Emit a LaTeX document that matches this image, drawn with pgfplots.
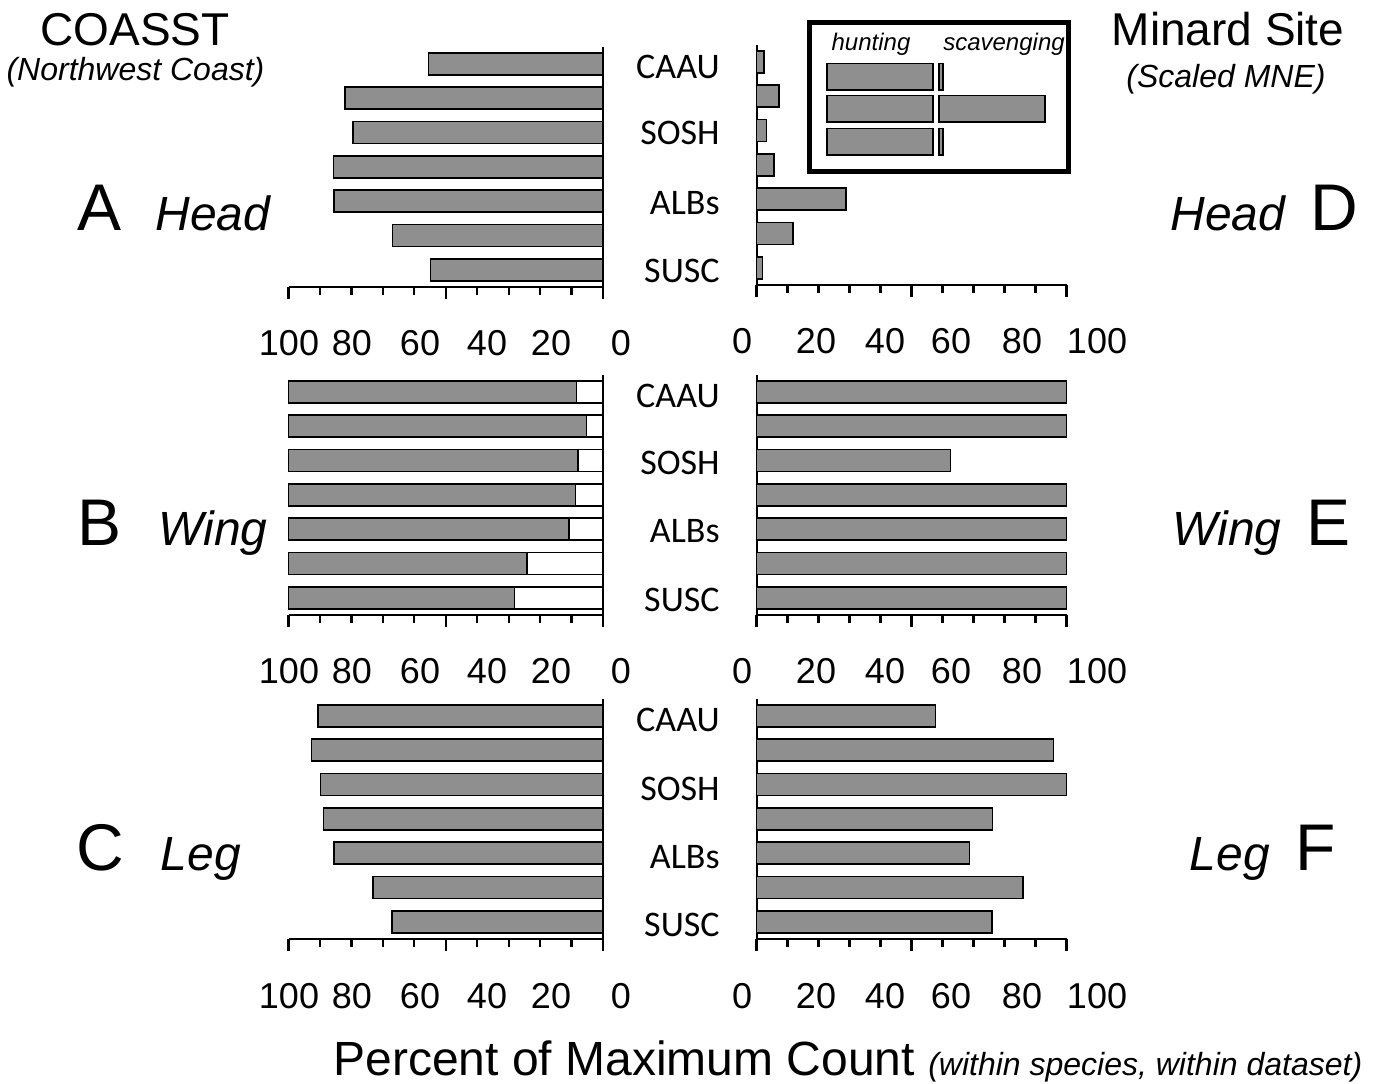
\documentclass[border=0pt]{standalone}
\usepackage{fontspec}
\setmainfont{Liberation Sans}
\newfontfamily\calfont{Carlito}
\usepackage{pgfplots}
\pgfplotsset{compat=1.18}
\definecolor{barg}{RGB}{143,143,143}
\pgfplotsset{
  panel/.style={
    scale only axis, height=119.8pt,
    ymin=0.5, ymax=7.48,
    ytick=\empty,
    xticklabels={},
    bar width=0.64,
    clip=false,
    anchor=south west,
  },
  tickset/.style={
    axis line style={line width=1pt,-},
    tick align=outside,
    major tick length=6pt, minor tick length=4pt,
    major tick style={line width=1.1pt,black},
    minor tick style={line width=1.1pt,black},
  },
  leftpanel/.style={panel, width=157.25pt, xmin=-100, xmax=0,
    xtick={-100,-50,0}, minor xtick={-90,-80,-70,-60,-40,-30,-20,-10},
    axis x line=bottom, axis y line=right, tickset},
  rightpanel/.style={panel, width=155pt, xmin=0, xmax=100,
    xtick={0,50,100}, minor xtick={10,20,30,40,60,70,80,90},
    axis x line=bottom, axis y line=left, tickset},
  bars/.style={fill=barg, draw=black, line width=0.75pt},
}
\newcommand{\tl}{\fontsize{18}{20}\selectfont}
\newcommand{\cl}{\calfont\fontsize{18}{20}\selectfont}
\begin{document}
\begin{tikzpicture}
\path[use as bounding box] (0,0) rectangle (687.5pt,-541.5pt);

% Panel A (COASST head)
\begin{axis}[leftpanel, at={(144.25pt,-143.5pt)}, xbar]
\addplot[bars] coordinates {(-55.5,7) (-82.0,6) (-79.5,5) (-85.7,4) (-85.5,3) (-66.9,2) (-54.8,1)};
\end{axis}

% Panel D (Minard head)
\begin{axis}[rightpanel, at={(378.25pt,-142.5pt)}, xbar]
\addplot[bars] coordinates {(2.4,7) (7.3,6) (3.2,5) (5.6,4) (28.8,3) (11.8,2) (1.9,1)};
\end{axis}

% Panel B (COASST wing)
\begin{axis}[leftpanel, at={(144.25pt,-307.5pt)}, xbar stacked]
\addplot[fill=white, draw=black, line width=0.75pt] coordinates {(-8.5,7) (-5.3,6) (-8.0,5) (-8.7,4) (-10.8,3) (-24.2,2) (-28.2,1)};
\addplot[bars] coordinates {(-91.5,7) (-94.7,6) (-92.0,5) (-91.3,4) (-89.2,3) (-75.8,2) (-71.8,1)};
\end{axis}

% Panel E (Minard wing)
\begin{axis}[rightpanel, at={(378.25pt,-307.5pt)}, xbar]
\addplot[bars] coordinates {(100,7) (100,6) (62.6,5) (100,4) (100,3) (100,2) (100,1)};
\end{axis}

% Panel C (COASST leg)
\begin{axis}[leftpanel, at={(144.25pt,-469.5pt)}, xbar]
\addplot[bars] coordinates {(-90.6,7) (-92.7,6) (-89.9,5) (-88.9,4) (-85.5,3) (-73.2,2) (-67.1,1)};
\end{axis}

% Panel F (Minard leg)
\begin{axis}[rightpanel, at={(378.25pt,-469.5pt)}, xbar]
\addplot[bars] coordinates {(57.7,7) (95.8,6) (100,5) (76.2,4) (68.7,3) (86.0,2) (75.9,1)};
\end{axis}

% Inset legend (hunting / scavenging)
\begin{axis}[scale only axis, width=129.75pt, height=74.5pt, at={(404.5pt,-85.75pt)}, anchor=south west,
  xmin=0, xmax=259.5, ymin=0, ymax=149, xtick=\empty, ytick=\empty,
  axis line style={line width=2.5pt}, xbar stacked, bar width=26.5, clip=false]
\addplot[draw=none, fill=none] coordinates {(18,94.8) (18,62.6) (18,29.8)};
\addplot[bars] coordinates {(106,94.8) (106,62.6) (106,29.8)};
\addplot[draw=none, fill=none] coordinates {(6,94.8) (6,62.6) (6,29.8)};
\addplot[bars] coordinates {(4,94.8) (106,62.6) (4,29.8)};
\node[anchor=base, font=\fontsize{12}{14}\selectfont\itshape, inner sep=0] at (axis cs:62,121.5) {hunting};
\node[anchor=base, font=\fontsize{12}{14}\selectfont\itshape, inner sep=0] at (axis cs:195,121.5) {scavenging};
\end{axis}

\begin{scope}[x=0.5pt, y=-0.5pt]
% titles
\node[anchor=base, inner sep=0, font=\fontsize{23}{26}\selectfont] at (135,45) {COASST};
\node[anchor=base, inner sep=0, font=\fontsize{16}{18}\selectfont\itshape] at (135.5,80) {(Northwest Coast)};
\node[anchor=base, inner sep=0, font=\fontsize{23}{26}\selectfont] at (1228,45) {Minard Site};
\node[anchor=base, inner sep=0, font=\fontsize{16}{18}\selectfont\itshape] at (1226,87) {(Scaled MNE)};
% panel letters and body parts
\node[anchor=base, inner sep=0, font=\fontsize{33}{36}\selectfont] at (100,230) {A};
\node[anchor=base, inner sep=0, font=\fontsize{24}{28}\selectfont\itshape] at (213,230) {Head};
\node[anchor=base, inner sep=0, font=\fontsize{24}{28}\selectfont\itshape] at (1228,230) {Head};
\node[anchor=base, inner sep=0, font=\fontsize{33}{36}\selectfont] at (1334,230) {D};
\node[anchor=base, inner sep=0, font=\fontsize{33}{36}\selectfont] at (100,545) {B};
\node[anchor=base, inner sep=0, font=\fontsize{24}{28}\selectfont\itshape] at (213,545) {Wing};
\node[anchor=base, inner sep=0, font=\fontsize{24}{28}\selectfont\itshape] at (1227,545) {Wing};
\node[anchor=base, inner sep=0, font=\fontsize{33}{36}\selectfont] at (1328,545) {E};
\node[anchor=base, inner sep=0, font=\fontsize{33}{36}\selectfont] at (100,870) {C};
\node[anchor=base, inner sep=0, font=\fontsize{24}{28}\selectfont\itshape] at (201,870) {Leg};
\node[anchor=base, inner sep=0, font=\fontsize{24}{28}\selectfont\itshape] at (1230,870) {Leg};
\node[anchor=base, inner sep=0, font=\fontsize{33}{36}\selectfont] at (1316,870) {F};
% category labels
\foreach \yy/\tt in {67/CAAU,133/SOSH,203/ALBs,271/SUSC,396/CAAU,463/SOSH,531/ALBs,600/SUSC,720/CAAU,789/SOSH,857/ALBs,925/SUSC}
  \node[anchor=east, inner sep=0, font=\cl] at (720,\yy) {\tt};
% tick labels, left panels
\foreach \yy in {343,671,996}{
  \node[font=\tl, inner sep=0] at (289,\yy) {100};
  \node[font=\tl, inner sep=0] at (352,\yy) {80};
  \node[font=\tl, inner sep=0] at (420,\yy) {60};
  \node[font=\tl, inner sep=0] at (487,\yy) {40};
  \node[font=\tl, inner sep=0] at (551,\yy) {20};
  \node[font=\tl, inner sep=0] at (621,\yy) {0};
}
% tick labels, right panels
\foreach \yy in {341,671,996}{
  \node[font=\tl, inner sep=0] at (742,\yy) {0};
  \node[font=\tl, inner sep=0] at (816,\yy) {20};
  \node[font=\tl, inner sep=0] at (885,\yy) {40};
  \node[font=\tl, inner sep=0] at (951,\yy) {60};
  \node[font=\tl, inner sep=0] at (1022,\yy) {80};
  \node[font=\tl, inner sep=0] at (1097,\yy) {100};
}
% bottom label
\node[anchor=base west, inner sep=0, font=\fontsize{24}{28}\selectfont] at (333,1075) {Percent of Maximum Count {\fontsize{16}{18}\selectfont\itshape (within species, within dataset)}};
\end{scope}
\end{tikzpicture}
\end{document}
